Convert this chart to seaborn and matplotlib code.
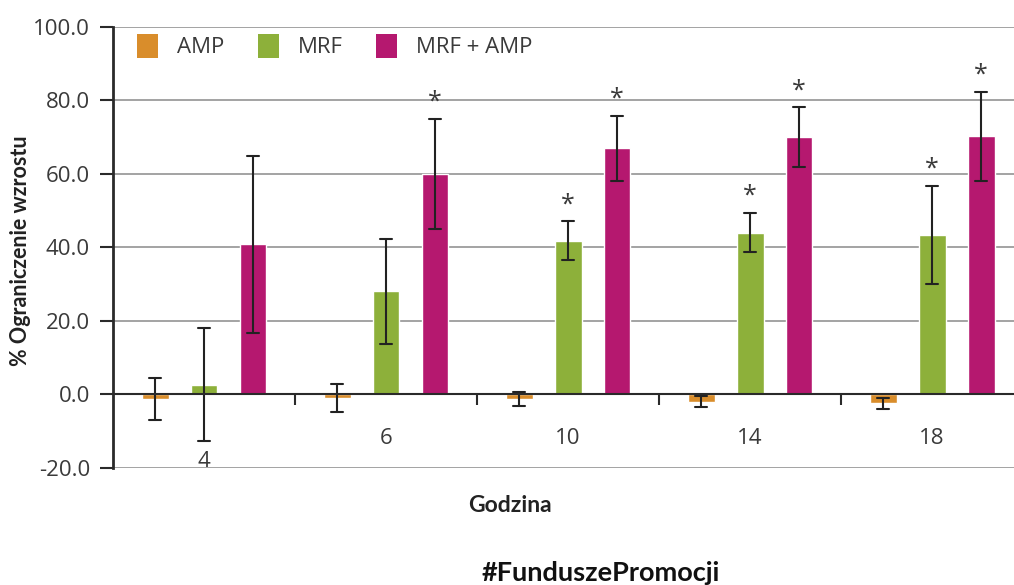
import numpy as np
import pandas as pd
import matplotlib
matplotlib.use("Agg")
import matplotlib.pyplot as plt
from matplotlib.patches import Patch
from matplotlib.ticker import FormatStrFormatter, FixedLocator
import seaborn as sns

# Hours of measurement and treatment groups
hours = ["4", "6", "10", "14", "18"]
treatments = ["AMP", "MRF", "MRF + AMP"]

# Mean growth inhibition (%) and error (±) per treatment
amp_mean = [-1.3, -1.0, -1.3, -2.0, -2.4]
amp_err = [5.7, 3.9, 2.0, 1.4, 1.5]
mrf_mean = [2.6, 28.0, 41.8, 44.0, 43.4]
mrf_err = [15.4, 14.4, 5.3, 5.4, 13.3]
combo_mean = [40.8, 60.0, 67.0, 70.0, 70.2]
combo_err = [24.2, 15.0, 8.9, 8.2, 12.1]

# Statistically significant results (marked with an asterisk)
amp_sig = [False, False, False, False, False]
mrf_sig = [False, False, True, True, True]
combo_sig = [False, True, True, True, True]

colors = ["#D98D2B", "#8DB03A", "#B5186F"]

means = [amp_mean, mrf_mean, combo_mean]
errs = [amp_err, mrf_err, combo_err]
sigs = [amp_sig, mrf_sig, combo_sig]

# Long table: each bar gets its lower and upper error bound, so the mean
# is the bar height and the min/max span is the error bar.
rows = []
for t, m_list, e_list in zip(treatments, means, errs):
    for h, m, e in zip(hours, m_list, e_list):
        rows.append({"Godzina": h, "Grupa": t, "v": m - e})
        rows.append({"Godzina": h, "Grupa": t, "v": m + e})
df = pd.DataFrame(rows)

sns.set_theme(style="white")
plt.rcParams["font.family"] = ["Open Sans", "DejaVu Sans"]

fig = plt.figure(figsize=(10.14, 5.85), dpi=100)
ax = fig.add_axes([113 / 1014, 1 - 467.7 / 585, 901 / 1014, (467.7 - 27) / 585])

width = 0.807
gap = 0.45
sns.barplot(
    data=df, x="Godzina", y="v", hue="Grupa",
    order=hours, hue_order=treatments, palette=colors,
    estimator="mean", errorbar=lambda v: (v.min(), v.max()),
    width=width, gap=gap, saturation=1, capsize=0.2,
    err_kws={"color": "#222222", "linewidth": 1.5},
    legend=False, ax=ax,
)

ax.set_ylim(-20, 100)
ax.set_xlim(-0.5, 4.45)
ax.set_yticks(np.arange(-20, 101, 20))
ax.yaxis.set_major_formatter(FormatStrFormatter("%.1f"))

# Horizontal gridlines
ax.yaxis.grid(True, color="#a3a3a3", linewidth=1.4)
ax.xaxis.grid(False)
ax.set_axisbelow(True)

# Spines: left axis, and the category axis running along zero
for s in ["top", "right"]:
    ax.spines[s].set_visible(False)
ax.spines["left"].set_color("#2a2a2a")
ax.spines["left"].set_linewidth(2)
ax.spines["bottom"].set_position(("data", 0))
ax.spines["bottom"].set_color("#2a2a2a")
ax.spines["bottom"].set_linewidth(1.5)

ax.tick_params(axis="y", which="major", left=True, length=9.5, width=1.5,
               color="#2a2a2a", pad=7, labelsize=16, labelcolor="#3a3a3a")
ax.tick_params(axis="x", which="major", bottom=True, length=0, pad=24,
               labelsize=16, labelcolor="#3a3a3a")
ax.xaxis.set_minor_locator(FixedLocator([0.5, 1.5, 2.5, 3.5]))
ax.tick_params(axis="x", which="minor", bottom=True, length=8, width=1.5,
               color="#2a2a2a", direction="out")
# The first hour label sits lower, below the long error bar
ax.xaxis.get_major_ticks()[0].set_pad(41)

# Significance asterisks above the error bars
n = len(hours)
for k, (m_list, e_list, s_list) in enumerate(zip(means, errs, sigs)):
    for i in range(n):
        if s_list[i]:
            p = ax.patches[k * n + i]
            xc = p.get_x() + p.get_width() / 2
            ax.annotate("*", (xc, m_list[i] + e_list[i]), xytext=(0, 14),
                        textcoords="offset points", ha="center",
                        va="center_baseline", fontsize=18, color="#3a3a3a")

ax.set_ylabel("% Ograniczenie wzrostu", fontsize=15.5, fontweight="bold",
              family=["Lato", "DejaVu Sans"], color="#222222", va="center")
ax.yaxis.set_label_coords(-0.103, 0.493)
ax.set_xlabel("Godzina", fontsize=16.5, fontweight="bold",
              family=["Lato", "DejaVu Sans"], color="#222222")
ax.xaxis.set_label_coords(0.4406, -0.086)
ax.xaxis.label.set_va("center")

# Legend with square colour keys in one row
handles = [Patch(facecolor=c, edgecolor="none", label=t)
           for c, t in zip(colors, treatments)]
leg = ax.legend(handles=handles, loc="upper left",
                bbox_to_anchor=(0.0266, 0.985), ncol=3, frameon=False,
                fontsize=16, handlelength=0.95, handleheight=1.3,
                handletextpad=0.85, columnspacing=1.5,
                borderpad=0, borderaxespad=0)
for t in leg.get_texts():
    t.set_color("#3a3a3a")

fig.text(601 / 1014, 1 - 573 / 585, "#FunduszePromocji", ha="center",
         va="center", fontsize=19.5, fontweight="bold",
         family=["Lato", "DejaVu Sans"], color="#111111")

fig.savefig("out.png", dpi=100)
